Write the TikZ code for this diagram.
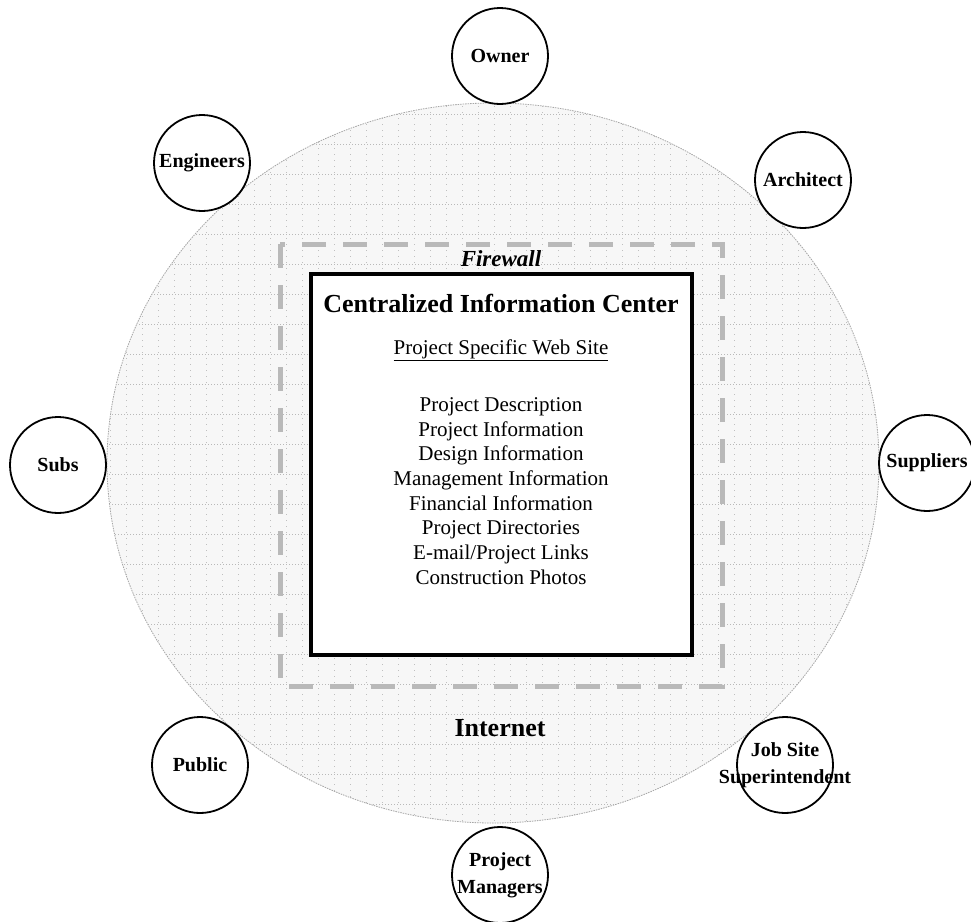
\documentclass[tikz,border=0pt]{standalone}
\usepackage{fontspec}
\setmainfont{Liberation Serif}
\begin{document}
\begin{tikzpicture}[x=1pt,y=-1pt,
  party/.style={circle,draw=black,line width=1.8pt,fill=white,minimum size=96pt,inner sep=0pt},
  plabel/.style={font=\fontsize{20}{27}\selectfont\bfseries,align=center},
  body/.style={font=\fontsize{21}{24.7}\selectfont,align=center},
  dotline/.style={gray!55,line width=0.7pt,dash pattern=on 1pt off 2pt},
  dotcol/.style={gray!50,line width=0.7pt,dash pattern=on 1pt off 5pt},
  fwline/.style={gray!55,line width=5pt,dash pattern=on 24pt off 17pt}]
\useasboundingbox (0,0) rectangle (971,921);
\fill[white] (0,0) rectangle (971,921);
\coordinate (net) at (493,463);
% Internet cloud (big ellipse)
\fill[gray!6] (net) ellipse[x radius=386pt,y radius=360pt];
\begin{scope}
  \clip (net) ellipse[x radius=386pt,y radius=360pt];
  \foreach \yy in {114,144,...,834} {\draw[dotline] (100,\yy) -- (890,\yy);}
  \foreach \xx in {110,126,...,880} {\draw[dotcol] (\xx,100) -- (\xx,830);}
\end{scope}
\draw[gray!70,line width=0.8pt,dash pattern=on 1.5pt off 1pt] (net) ellipse[x radius=386pt,y radius=360pt];
% firewall
\draw[fwline] (280,244) rectangle (722,686);
% central box
\node[draw=black,line width=4pt,fill=white,minimum width=381pt,minimum height=381pt,inner sep=0pt] (cic) at (501.5,464.5) {};
\node[font=\fontsize{23}{26}\selectfont\bfseries\itshape] (fw) at (501,259) {Firewall};
\node[font=\fontsize{26}{30}\selectfont\bfseries] (title) at (501,303) {Centralized Information Center};
\node[body] (web) at (501,350) {\underline{Project Specific Web Site}};
\node[body] (list) at (501,491) {Project Description\\Project Information\\Design Information\\Management Information\\Financial Information\\Project Directories\\E-mail/Project Links\\Construction Photos};
\node[font=\fontsize{26}{30}\selectfont\bfseries] (inet) at (500,728) {Internet};
% parties
\node[party,label={[plabel]center:Owner}] (owner) at (500,56) {};
\node[party,label={[plabel]center:Engineers}] (eng) at (202,163) {};
\node[party,label={[plabel]center:Architect}] (arch) at (803,180) {};
\node[party,label={[plabel]center:Subs}] (subs) at (58,465) {};
\node[party,label={[plabel]center:Suppliers}] (supp) at (927,463) {};
\node[party,label={[plabel]center:Public}] (pub) at (200,765) {};
\node[party,label={[plabel]center:Job Site\\Superintendent}] (job) at (785,765) {};
\node[party,label={[plabel]center:Project\\Managers}] (pm) at (500,875) {};
\end{tikzpicture}
\end{document}
